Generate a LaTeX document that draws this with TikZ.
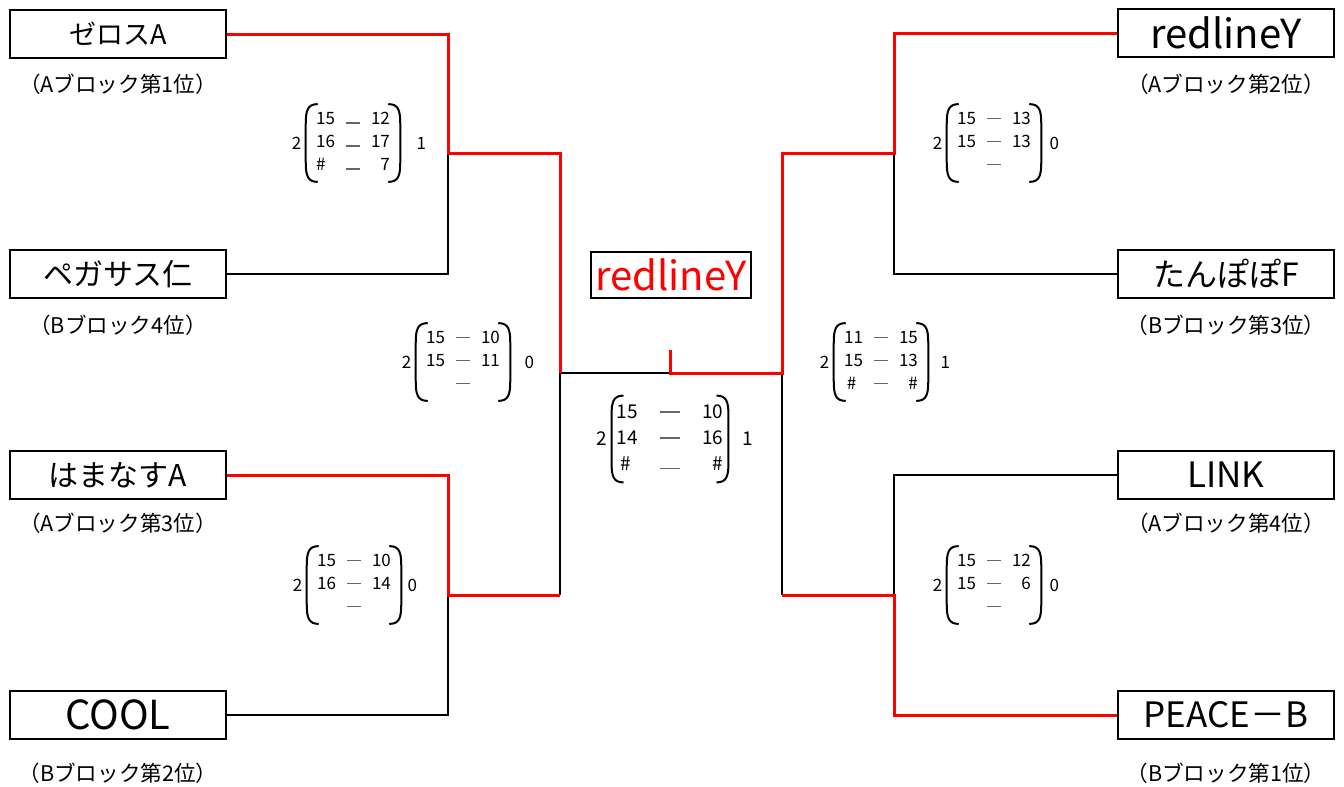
\documentclass[tikz,border=0pt]{standalone}
\usepackage{fontspec}
\setmainfont{Noto Sans CJK JP}
\usetikzlibrary{positioning}

% dashes between the set scores
\newcommand{\mdash}[1][7pt]{\textcolor{black!60}{\rule[2.8pt]{#1}{0.7pt}}}
\newcommand{\ldash}[1][7pt]{\textcolor{black!60}{\rule[0.4pt]{#1}{0.7pt}}}
% set scores as a small table
\newcommand{\sets}[2][5.5pt]{\begin{tabular}{@{}l@{\hspace{#1}}c@{\hspace{#1}}r@{}}#2\end{tabular}}
% round brackets round a score node
\newcommand{\brackets}[1]{%
  \draw [line width=1pt] ([xshift=6pt]#1.north west) .. controls ([xshift=1pt]#1.north west) and ([yshift=-3pt]#1.north west) .. ([yshift=-10pt]#1.north west)
    -- ([yshift=10pt]#1.south west) .. controls ([yshift=3pt]#1.south west) and ([xshift=1pt]#1.south west) .. ([xshift=6pt]#1.south west);
  \draw [line width=1pt] ([xshift=-6pt]#1.north east) .. controls ([xshift=-1pt]#1.north east) and ([yshift=-3pt]#1.north east) .. ([yshift=-10pt]#1.north east)
    -- ([yshift=10pt]#1.south east) .. controls ([yshift=3pt]#1.south east) and ([xshift=-1pt]#1.south east) .. ([xshift=-6pt]#1.south east);
}

\tikzset{
  team/.style={draw,line width=1pt,rectangle,minimum width=108pt,minimum height=24pt,inner sep=0pt},
  block/.style={font=\fontsize{10.8}{12}\selectfont},
  score/.style={font=\fontsize{8.5}{11.5}\selectfont,inner xsep=5pt,inner ysep=2pt},
  games/.style={font=\fontsize{8.5}{10}\selectfont,inner sep=0pt},
  win/.style={red,line width=1.5pt},
  lose/.style={black,line width=0.75pt}
}

\begin{document}
\begin{tikzpicture}[x=0.5pt,y=-0.5pt]
  \useasboundingbox (0,0) rectangle (1344,787);

  % left side teams
  \node [team,font=\fontsize{13.5}{15}\selectfont] at (118,34) (zeros) {ゼロスA};
  \node [block] at (118,84) (zeros_blk) {（Aブロック第1位）};
  \node [team,font=\fontsize{15}{17}\selectfont] at (118,274) (pegasus) {ペガサス仁};
  \node [block] at (118,325) (pegasus_blk) {（Bブロック4位）};
  \node [team,font=\fontsize{15}{17}\selectfont] at (118,475) (hamanasu) {はまなすA};
  \node [block] at (118,523) (hamanasu_blk) {（Aブロック第3位）};
  \node [team,font=\fontsize{20}{22}\selectfont] at (118,715) (cool) {COOL};
  \node [block] at (118,773) (cool_blk) {（Bブロック第2位）};

  % right side teams
  \node [team,font=\fontsize{20}{22}\selectfont] at (1226,33) (redline) {redlineY};
  \node [block] at (1226,84) (redline_blk) {（Aブロック第2位）};
  \node [team,font=\fontsize{16}{18}\selectfont] at (1226,274) (tanpopo) {たんぽぽF};
  \node [block] at (1226,325) (tanpopo_blk) {（Bブロック第3位）};
  \node [team,font=\fontsize{17.5}{19}\selectfont] at (1226,475) (link) {LINK};
  \node [block] at (1226,523) (link_blk) {（Aブロック第4位）};
  \node [team,font=\fontsize{17.5}{19}\selectfont] at (1226,715) (peace) {PEACE－B};
  \node [block] at (1226,773) (peace_blk) {（Bブロック第1位）};

  % champion
  \node [draw,line width=1pt,text=red,inner xsep=2pt,inner ysep=0pt,minimum height=23pt,font=\fontsize{20}{22}\selectfont] at (671,275) (champ) {redlineY};

  % junctions
  \coordinate (qfA) at (448,153);
  \coordinate (qfB) at (448,595);
  \coordinate (sfL) at (560,373);
  \coordinate (sfLb) at (560,595);
  \coordinate (fin) at (670,373);
  \coordinate (fintop) at (670,350);
  \coordinate (sfR) at (782,373);
  \coordinate (sfRb) at (782,595);
  \coordinate (qfC) at (894,153);
  \coordinate (qfD) at (894,595);

  % losing lines
  \draw [lose] (pegasus.east) -| (qfA);
  \draw [lose] (cool.east) -| (qfB);
  \draw [lose] (sfLb) -- (sfL) -- (fin);
  \draw [lose] (qfC) |- (tanpopo.west);
  \draw [lose] (link.west) -| (qfD);
  \draw [lose] (sfRb) -- (sfR);

  % winning lines
  \draw [win] (zeros.east) -| (qfA) -| (sfL);
  \draw [win] (hamanasu.east) -| (qfB) -- (sfLb);
  \draw [win] (fintop) |- (sfR) |- (qfC) |- (redline.west);
  \draw [win] (peace.west) -| (qfD) -- (sfRb);

  % scores
  \node [score] at (353,143) (score_a) {\sets{15 & \ldash & 12\\ 16 & \ldash & 17\\ \# & \ldash & 7}};
  \brackets{score_a}
  \node [games,left=2pt of score_a] (score_a_l) {2};
  \node [games,right=8pt of score_a] (score_a_r) {1};

  \node [score] at (463,362) (score_l) {\sets{15 & \mdash & 10\\ 15 & \mdash & 11\\ & \mdash & }};
  \brackets{score_l}
  \node [games,left=2pt of score_l] (score_l_l) {2};
  \node [games,right=7pt of score_l] (score_l_r) {0};

  \node [score] at (354,585) (score_b) {\sets{15 & \mdash & 10\\ 16 & \mdash & 14\\ & \mdash & }};
  \brackets{score_b}
  \node [games,left=2pt of score_b] (score_b_l) {2};
  \node [games,right=3pt of score_b] (score_b_r) {0};

  \node [score,font=\fontsize{9.5}{13}\selectfont,inner xsep=2.5pt] at (670,439) (score_f) {\sets[11pt]{15 & \mdash[10pt] & 10\\ 14 & \mdash[10pt] & 16\\ \,\# & \ldash[10pt] & \#}};
  \brackets{score_f}
  \node [games,font=\fontsize{9.5}{11}\selectfont,left=2pt of score_f] (score_f_l) {2};
  \node [games,font=\fontsize{9.5}{11}\selectfont,right=7pt of score_f] (score_f_r) {1};

  \node [score] at (994,143) (score_c) {\sets{15 & \mdash & 13\\ 15 & \mdash & 13\\ & \mdash & }};
  \brackets{score_c}
  \node [games,left=2pt of score_c] (score_c_l) {2};
  \node [games,right=4pt of score_c] (score_c_r) {0};

  \node [score] at (881,362) (score_r) {\sets{11 & \mdash & 15\\ 15 & \mdash & 13\\ \,\# & \mdash & \#}};
  \brackets{score_r}
  \node [games,left=2pt of score_r] (score_r_l) {2};
  \node [games,right=6pt of score_r] (score_r_r) {1};

  \node [score] at (994,585) (score_d) {\sets{15 & \mdash & 12\\ 15 & \mdash & 6\\ & \mdash & }};
  \brackets{score_d}
  \node [games,left=2pt of score_d] (score_d_l) {2};
  \node [games,right=4pt of score_d] (score_d_r) {0};

\end{tikzpicture}
\end{document}
